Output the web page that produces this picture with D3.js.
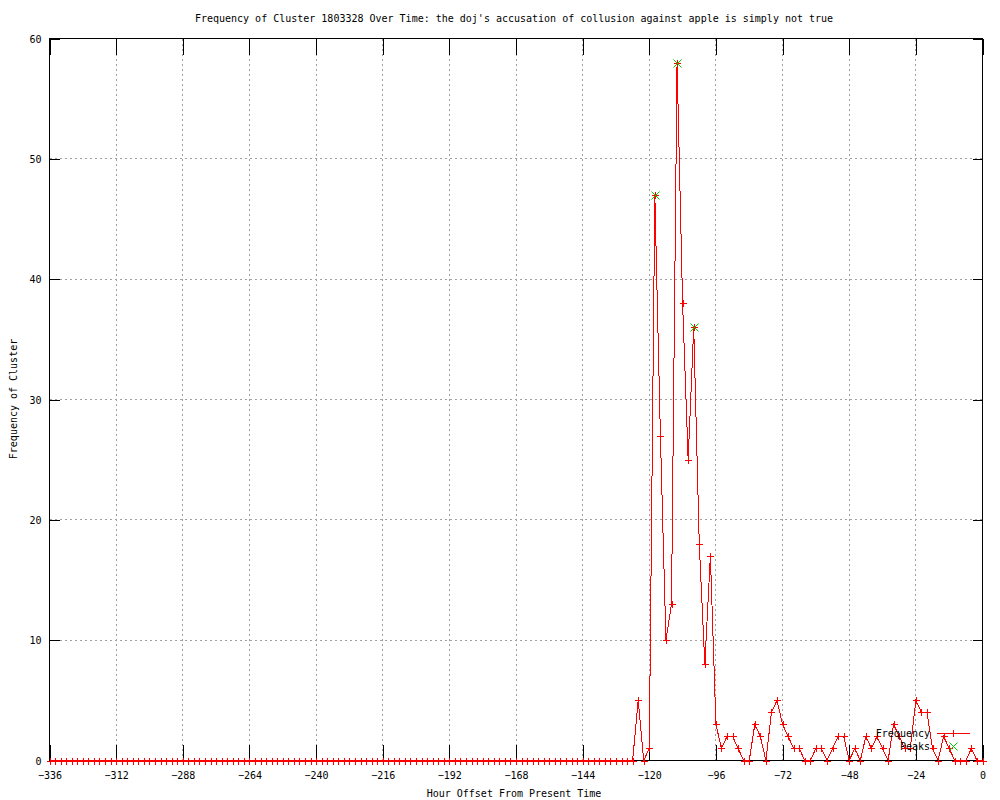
<!DOCTYPE html>
<html>
<head>
<meta charset="utf-8">
<style>
    body { margin: 0; background: #fff; }
    svg text { font-family: "DejaVu Sans Mono", monospace; font-size: 10px; fill: #000; }
</style>
</head>
<body>
<svg width="1000" height="800" id="chart"></svg>
<script src="https://cdn.jsdelivr.net/npm/d3@7"></script>
<script>
    // hour offsets, one point every 2 hours
    let hours = d3.range(-336, 1, 2);

    let frequency = [
        0, 0, 0, 0, 0, 0, 0, 0, 0, 0, 0, 0, 0, 0, 0, 0, 0, 0, 0, 0,
        0, 0, 0, 0, 0, 0, 0, 0, 0, 0, 0, 0, 0, 0, 0, 0, 0, 0, 0, 0,
        0, 0, 0, 0, 0, 0, 0, 0, 0, 0, 0, 0, 0, 0, 0, 0, 0, 0, 0, 0,
        0, 0, 0, 0, 0, 0, 0, 0, 0, 0, 0, 0, 0, 0, 0, 0, 0, 0, 0, 0,
        0, 0, 0, 0, 0, 0, 0, 0, 0, 0, 0, 0, 0, 0, 0, 0, 0, 0, 0, 0,
        0, 0, 0, 0, 0, 0,
        5, 0, 1, 47, 27, 10, 13, 58, 38, 25, 36, 18, 8, 17, 3, 1,
        2, 2, 1, 0, 0, 3, 2, 0, 4, 5, 3, 2, 1, 1, 0, 0,
        1, 1, 0, 1, 2, 2, 0, 1, 0, 2, 1, 2, 1, 0, 3, 2,
        1, 1, 5, 4, 4, 1, 0, 2, 1, 0, 0, 0, 1, 0, 0
    ];

    let peakHours = [-118, -110, -104];
    let peakValues = [47, 58, 36];

    let xTicks = [-336, -312, -288, -264, -240, -216, -192, -168, -144, -120, -96, -72, -48, -24, 0];
    let yTicks = [0, 10, 20, 30, 40, 50, 60];

    let plotLeft = 49.5, plotRight = 982.5, plotTop = 38.5, plotBottom = 760.5;

    let svg = d3.select("#chart");
    let x = d3.scaleLinear().domain([-336, 0]).range([plotLeft, plotRight]);
    let y = d3.scaleLinear().domain([0, 60]).range([plotBottom, plotTop]);

    drawGrid();
    drawAxes();
    drawSeries();
    drawLegend();
    drawLabels();

    function drawGrid() {
        let g = svg.append("g")
            .attr("stroke", "#a0a0a0")
            .attr("stroke-dasharray", "2,3")
            .attr("shape-rendering", "crispEdges");
        g.selectAll("line.gx")
            .data(xTicks.slice(1, -1))
            .enter().append("line")
            .attr("x1", d => x(d)).attr("x2", d => x(d))
            .attr("y1", plotTop).attr("y2", plotBottom);
        g.selectAll("line.gy")
            .data(yTicks.slice(1, -1))
            .enter().append("line")
            .attr("x1", plotLeft).attr("x2", plotRight)
            .attr("y1", d => y(d)).attr("y2", d => y(d));
    }

    function drawAxes() {
        let xAxis = d3.axisBottom(x).tickValues(xTicks).tickSize(-16).tickPadding(20);
        let xTop = d3.axisTop(x).tickValues(xTicks).tickSize(-16).tickFormat("");
        let yAxis = d3.axisLeft(y).tickValues(yTicks).tickSize(-10).tickPadding(8);
        let yRight = d3.axisRight(y).tickValues(yTicks).tickSize(-10).tickFormat("");

        let gx = svg.append("g").attr("transform", `translate(0,${plotBottom})`).call(xAxis);
        svg.append("g").attr("transform", `translate(0,${plotTop})`).call(xTop);
        let gy = svg.append("g").attr("transform", `translate(${plotLeft},0)`).call(yAxis);
        svg.append("g").attr("transform", `translate(${plotRight},0)`).call(yRight);

        svg.selectAll(".domain").remove();
        svg.selectAll(".tick line").attr("stroke", "#000").attr("shape-rendering", "crispEdges");
        svg.selectAll(".tick text").style("font-family", "DejaVu Sans Mono").style("font-size", "10px");
        gx.selectAll(".tick text").attr("dy", "-0.2em");
        gy.selectAll(".tick text").attr("dy", "0.35em");

        svg.append("rect")
            .attr("x", plotLeft).attr("y", plotTop)
            .attr("width", plotRight - plotLeft).attr("height", plotBottom - plotTop)
            .attr("fill", "none").attr("stroke", "#000")
            .attr("shape-rendering", "crispEdges");
    }

    function plus(sel, cx, cy, s, color) {
        sel.append("path")
            .attr("d", `M${cx - s},${cy}H${cx + s}M${cx},${cy - s}V${cy + s}`)
            .attr("stroke", color).attr("fill", "none")
            .attr("shape-rendering", "crispEdges");
    }

    function cross(sel, cx, cy, s, color) {
        sel.append("path")
            .attr("d", `M${cx - s},${cy - s}L${cx + s},${cy + s}M${cx - s},${cy + s}L${cx + s},${cy - s}`)
            .attr("stroke", color).attr("fill", "none");
    }

    function drawSeries() {
        let pts = hours.map((h, i) => [h, frequency[i]]);
        let line = d3.line().x(d => x(d[0])).y(d => y(d[1]));

        svg.append("path")
            .datum(pts)
            .attr("d", line)
            .attr("fill", "none")
            .attr("stroke", "#ff0000")
            .attr("stroke-width", 1)
            .attr("shape-rendering", "crispEdges");

        let gm = svg.append("g");
        pts.forEach(d => plus(gm, Math.round(x(d[0])) + 0.5, Math.round(y(d[1])) + 0.5, 3.5, "#ff0000"));

        let gp = svg.append("g");
        peakHours.forEach((h, i) => cross(gp, Math.round(x(h)) + 0.5, Math.round(y(peakValues[i])) + 0.5, 4, "#00d000"));
    }

    function drawLegend() {
        let g = svg.append("g");
        g.append("text").attr("x", 930).attr("y", 733).attr("dy", "0.35em")
            .attr("text-anchor", "end").text("Frequency");
        g.append("line").attr("x1", 937).attr("x2", 970).attr("y1", 733.5).attr("y2", 733.5)
            .attr("stroke", "#ff0000").attr("shape-rendering", "crispEdges");
        plus(g, 953.5, 733.5, 3.5, "#ff0000");
        g.append("text").attr("x", 930).attr("y", 746).attr("dy", "0.35em")
            .attr("text-anchor", "end").text("Peaks");
        cross(g, 953.5, 746.5, 4, "#00d000");
    }

    function drawLabels() {
        svg.append("text")
            .attr("x", 514).attr("y", 22)
            .attr("text-anchor", "middle")
            .text("Frequency of Cluster 1803328 Over Time: the doj's accusation of collusion against apple is simply not true");
        svg.append("text")
            .attr("x", 514).attr("y", 797)
            .attr("text-anchor", "middle")
            .text("Hour Offset From Present Time");
        svg.append("text")
            .attr("transform", "translate(17,399) rotate(-90)")
            .attr("text-anchor", "middle")
            .text("Frequency of Cluster");
    }
</script>
</body>
</html>
